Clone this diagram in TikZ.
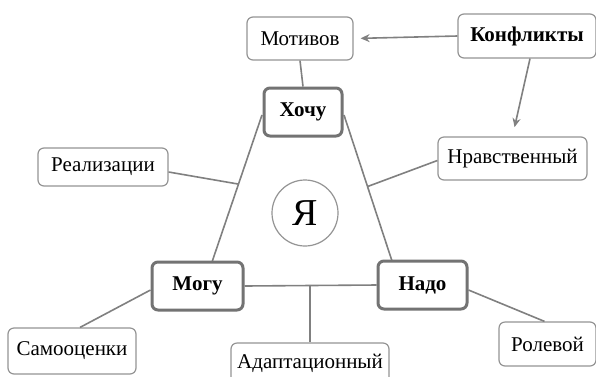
\documentclass[tikz,border=0pt]{standalone}
\usepackage{fontspec}
\setmainfont{Liberation Serif}
\usetikzlibrary{arrows.meta,calc}
\begin{document}
\begin{tikzpicture}[x=1pt,y=-1pt,
  leaf/.style={draw=black!42,line width=1.2pt,rounded corners=6pt,fill=white,inner sep=0pt,font=\fontsize{21}{23}\selectfont},
  core/.style={draw=black!55,line width=3pt,rounded corners=6pt,fill=white,inner sep=0pt,font=\fontsize{21}{23}\selectfont\bfseries},
  conn/.style={draw=black!50,line width=1.6pt},
  arr/.style={conn,-{Stealth[length=9pt,width=8pt]},shorten >=7pt}]
\useasboundingbox (0,0) rectangle (596,376);
\fill[white] (0,0) rectangle (596,376);
% triangle corners
\coordinate (hl) at (262,115);
\coordinate (hr) at (344,115);
\coordinate (mt) at (212,262);
\coordinate (nt) at (392,261);
\draw[conn] (hl) -- (mt);
\draw[conn] (hr) -- (nt);
\coordinate (pl) at ($(hl)!0.47!(mt)$);
\coordinate (pr) at ($(hr)!0.49!(nt)$);
% nodes
\node[leaf,minimum width=106,minimum height=43] (mot) at (300,38.5) {Мотивов};
\node[leaf,minimum width=138,minimum height=44,font=\fontsize{21}{23}\selectfont\bfseries] (konf) at (527,36) {Конфликты};
\node[core,minimum width=78,minimum height=48] (hoch) at (303,112) {Хочу};
\node[leaf,minimum width=130,minimum height=38] (real) at (103,167) {Реализации};
\node[leaf,minimum width=149,minimum height=43] (nrav) at (512.5,158.5) {Нравственный};
\node[draw=black!42,line width=1.2pt,circle,minimum size=66,inner sep=0pt,font=\fontsize{38}{40}\selectfont] (ya) at (305,213) {Я};
\node[core,minimum width=91,minimum height=48] (mogu) at (197.5,286) {Могу};
\node[core,minimum width=89,minimum height=48] (nado) at (422.5,285) {Надо};
\node[leaf,minimum width=128,minimum height=46] (samo) at (72,351) {Самооценки};
\node[leaf,minimum width=158,minimum height=40] (adap) at (310,363) {Адаптационный};
\node[leaf,minimum width=97,minimum height=44] (rol) at (547.5,344) {Ролевой};
% connectors
\draw[conn] (mogu.east) -- (nado.west);
\coordinate (pb) at (310,285.5);
\draw[conn] (mot.south) -- (hoch.north);
\draw[conn] ($(real.east)+(0,5)$) -- (pl);
\draw[conn] ($(nrav.west)+(0,2)$) -- (pr);
\draw[conn] (pb) -- (adap.north);
\draw[conn] ($(mogu.west)+(0,4)$) -- ($(samo.north)+(8,0)$);
\draw[conn] ($(nado.east)+(0,5)$) -- ($(rol.north)+(-3,0)$);
\draw[arr] (konf.west) -- (mot.east);
\draw[arr] ($(konf.south)+(3,0)$) -- (513,134);
\end{tikzpicture}
\end{document}
